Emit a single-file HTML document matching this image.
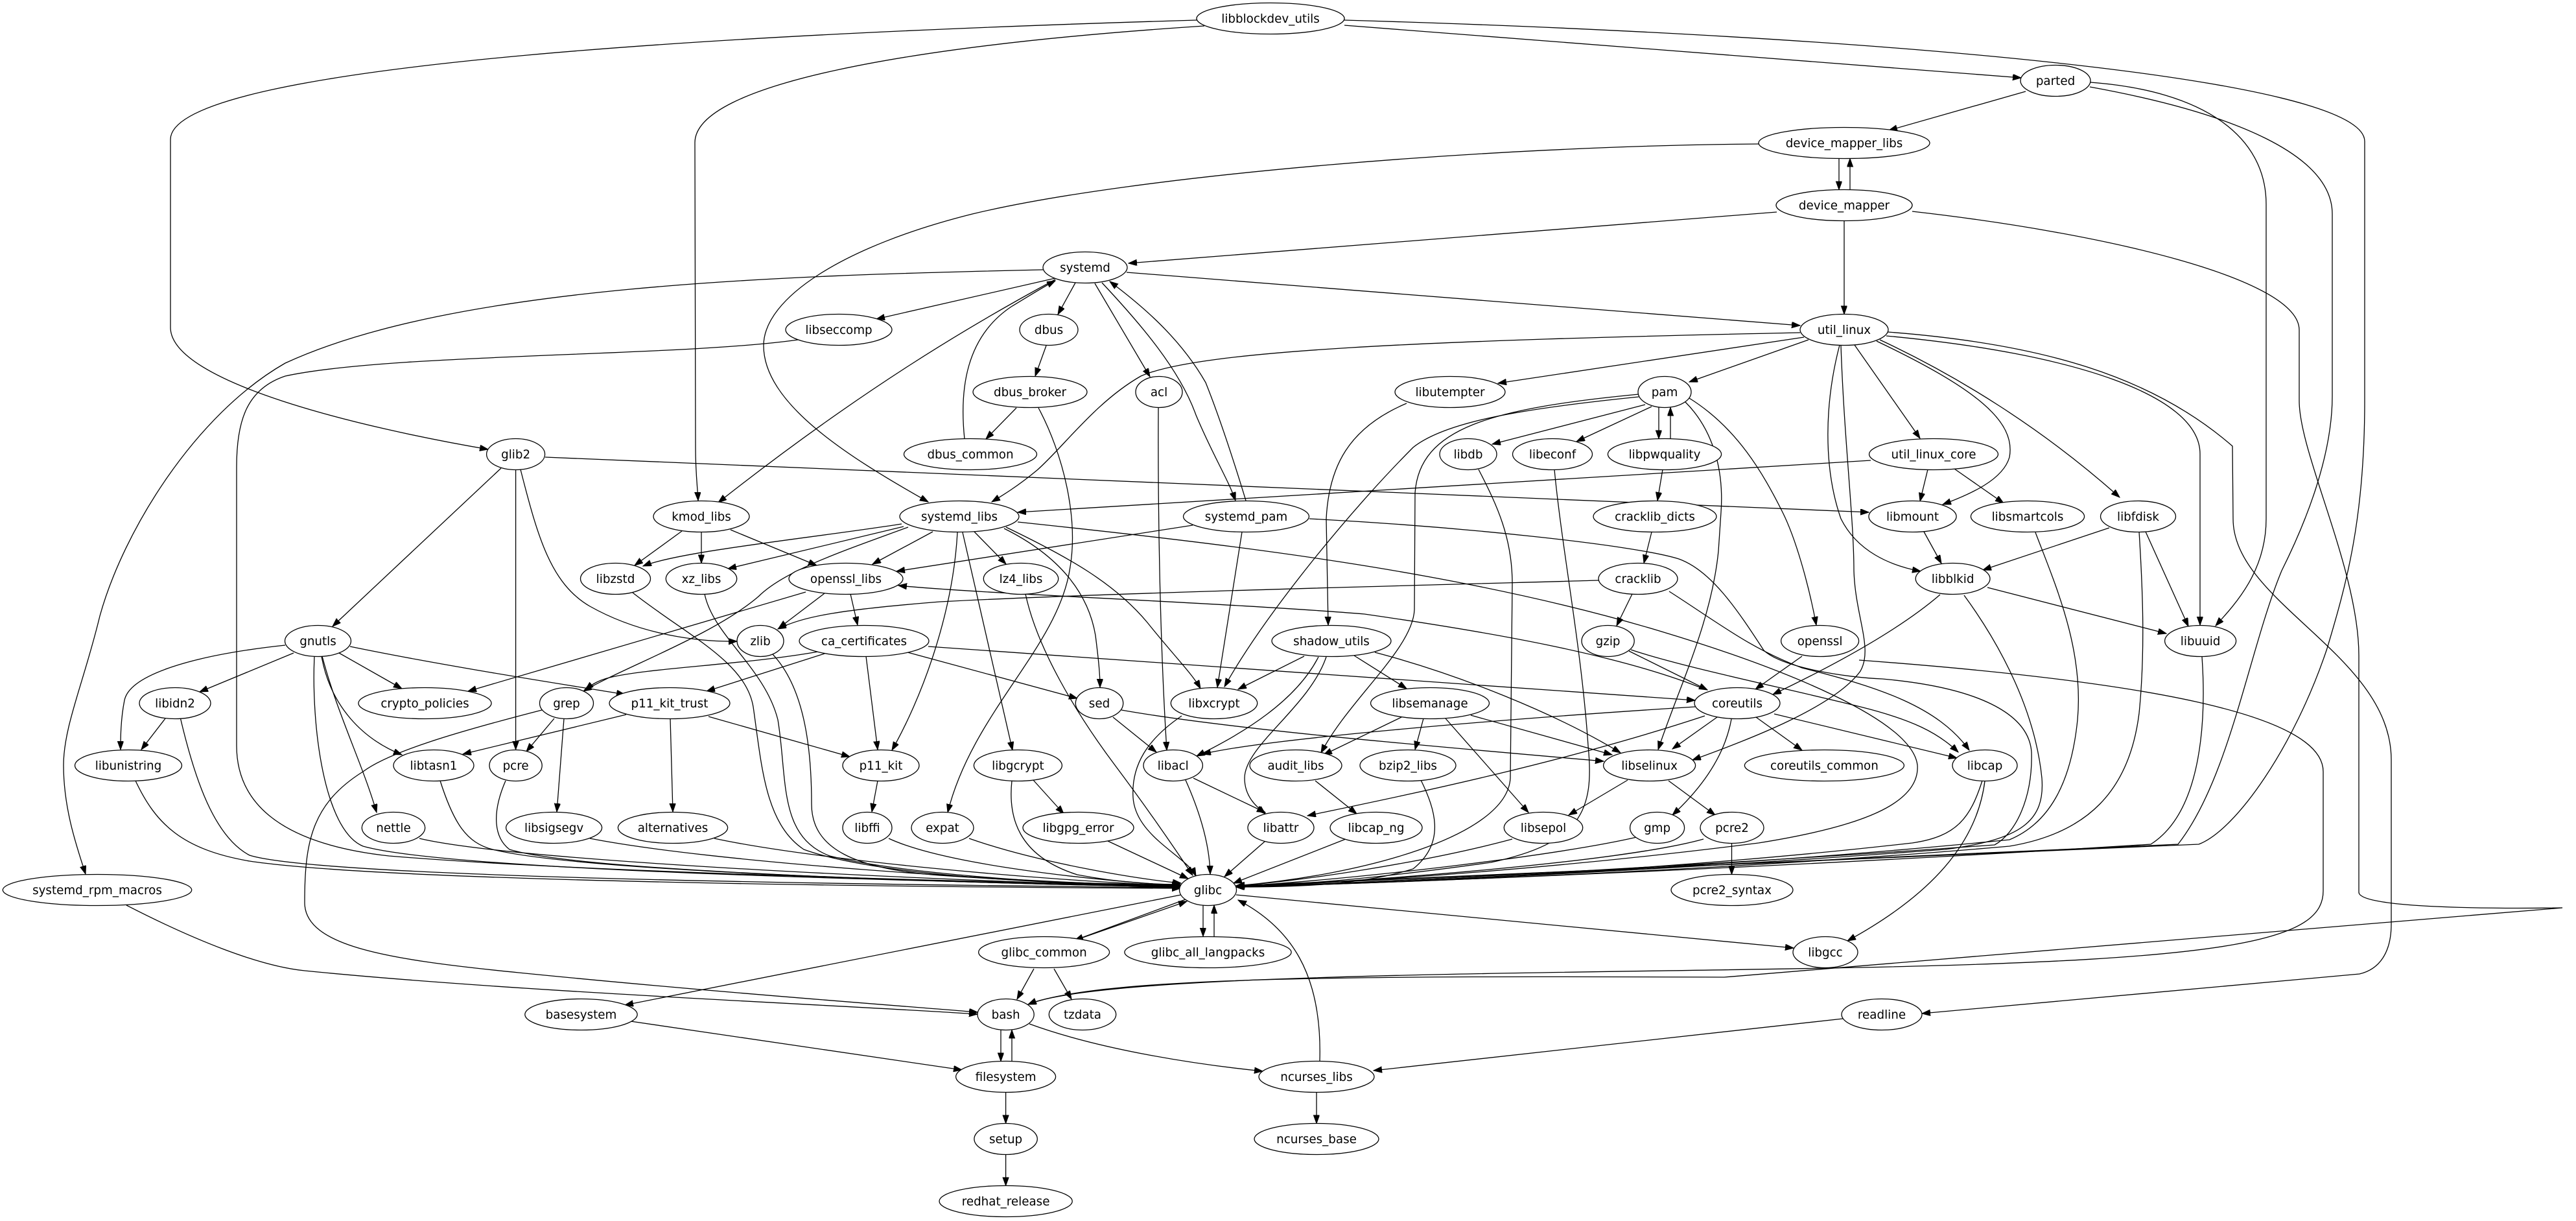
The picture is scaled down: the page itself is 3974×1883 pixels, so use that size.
<!DOCTYPE html>
<html>
<head>
<meta charset="utf-8">
<style>
html,body{margin:0;padding:0;background:#fff;}
svg{display:block;}
.e path{fill:none;stroke:#000;stroke-width:1.3;}
.n ellipse{fill:#fff;stroke:#000;stroke-width:1.3;}
.n text{font-family:"DejaVu Sans","Liberation Sans",sans-serif;font-size:18.3px;fill:#000;text-anchor:middle;}
</style>
</head>
<body>
<svg width="3974" height="1883" viewBox="0 0 3974 1883" xmlns="http://www.w3.org/2000/svg">
<defs>
<marker id="a" markerWidth="14" markerHeight="10" refX="13" refY="4.7" orient="auto" markerUnits="userSpaceOnUse">
<path d="M0,0 L13,4.7 L0,9.4 z" fill="#000" stroke="#000" stroke-width="1"/>
</marker>
</defs>
<rect width="3974" height="1883" fill="#fff"/>
<g class="e" marker-end="url(#a)">
<!-- libblockdev_utils -->
<path d="M1847,31 C1200,50 263,95 263,215 L263,505 C263,590 560,660 753,693" marker-end="url(#a)"/>
<path d="M1858,40 C1400,70 1072,130 1072,220 L1073,690 C1073,730 1076,750 1077,772" marker-end="url(#a)"/>
<path d="M2074,39 L3118,120" marker-end="url(#a)"/>
<path d="M2073,31 C2900,55 3648,120 3648,218 L3648,618 C3648,800 3620,900 3590,1000 C3540,1150 3450,1280 3392,1302 L1907,1366" marker-end="url(#a)"/>
<!-- parted -->
<path d="M3125,141 L2914,201" marker-end="url(#a)"/>
<path d="M3225,127 C3400,140 3496,210 3496,315 L3496,800 C3496,880 3450,930 3418,965" marker-end="url(#a)"/>
<path d="M3224,134 C3450,175 3598,240 3598,330 L3598,611 C3598,700 3560,800 3520,880 C3470,1000 3440,1200 3360,1302 L1907,1367" marker-end="url(#a)"/>
<!-- device mapper -->
<path d="M2837,244.5 L2837,292.5" marker-end="url(#a)"/>
<path d="M2854,292.5 L2854,244.5" marker-end="url(#a)"/>
<path d="M2713,222 C2300,225 1750,270 1500,330 C1300,380 1178,460 1178,533 C1178,620 1300,700 1432,774" marker-end="url(#a)"/>
<path d="M2741,327 L1741,406" marker-end="url(#a)"/>
<path d="M2845,340.5 L2845,484.5" marker-end="url(#a)"/>
<path d="M2950,326 C3250,360 3547,430 3547,509 L3547,618 C3547,700 3639,880 3639,1011 L3639,1376 C3639,1398 3800,1402 3953,1400 L2660,1507 C2100,1505 1700,1505 1586,1549" marker-end="url(#a)"/>
<!-- systemd -->
<path d="M1738,420 L2777,502" marker-end="url(#a)"/>
<path d="M1628,429 L1352,492" marker-end="url(#a)"/>
<path d="M1659,436 L1632,485" marker-end="url(#a)"/>
<path d="M1689,437 L1774,581" marker-end="url(#a)"/>
<path d="M1700,436 C1760,500 1820,570 1845,640 C1870,700 1895,740 1906,772" marker-end="url(#a)"/>
<path d="M1922,772 C1900,700 1880,640 1860,590 C1820,520 1760,470 1712,434" marker-end="url(#a)"/>
<path d="M1609,416 C1200,425 700,440 440,560 C300,640 190,820 154,950 C130,1050 98,1120 98,1180 C98,1250 120,1310 132,1348" marker-end="url(#a)"/>
<path d="M1628,431 C1500,500 1330,600 1108,775" marker-end="url(#a)"/>
<path d="M1488,677 C1480,600 1490,520 1560,473 C1590,455 1610,442 1628,433" marker-end="url(#a)"/>
<path d="M1614,533 L1597,580" marker-end="url(#a)"/>
<path d="M1568,629 L1521,677" marker-end="url(#a)"/>
<path d="M1602,629 C1640,700 1665,800 1650,880 C1630,1000 1500,1100 1462,1253" marker-end="url(#a)"/>
<path d="M1787,628.5 C1786,800 1790,1000 1800,1157" marker-end="url(#a)"/>
<path d="M1231,524 C1050,550 600,545 440,580 C380,600 365,650 365,720 L365,1150 C365,1230 420,1300 600,1320 C900,1345 1500,1360 1821,1366" marker-end="url(#a)"/>
<!-- glib2 -->
<path d="M773,722 L513,966" marker-end="url(#a)"/>
<path d="M795.6,724.5 L795.6,1156" marker-end="url(#a)"/>
<path d="M803,724 C830,830 850,900 910,935 C990,980 1080,990 1137,989" marker-end="url(#a)"/>
<path d="M841,705 L2883,790" marker-end="url(#a)"/>
<!-- kmod -->
<path d="M1052,819 L979,872" marker-end="url(#a)"/>
<path d="M1082,820.5 L1082,868.5" marker-end="url(#a)"/>
<path d="M1127,817 L1260,872" marker-end="url(#a)"/>
<path d="M976,914 C1060,980 1150,1020 1162,1090 C1175,1180 1180,1270 1240,1310 C1350,1350 1600,1362 1821,1368" marker-end="url(#a)"/>
<path d="M1087,916 C1100,980 1180,1030 1200,1110 C1215,1200 1200,1290 1280,1320 C1400,1350 1650,1363 1821,1370" marker-end="url(#a)"/>
<path d="M1192,1009 C1240,1060 1252,1150 1252,1240 C1252,1310 1320,1340 1450,1350 C1600,1360 1700,1364 1821,1364" marker-end="url(#a)"/>
<!-- openssl_libs -->
<path d="M1243,913 L722,1066" marker-end="url(#a)"/>
<path d="M1272,915 L1201,969" marker-end="url(#a)"/>
<path d="M1312,916 L1323,964" marker-end="url(#a)"/>
<!-- systemd_libs -->
<path d="M1439,820 L1346,870" marker-end="url(#a)"/>
<path d="M1391,808 C1250,830 1050,850 992,873" marker-end="url(#a)"/>
<path d="M1394,812 L1123,877" marker-end="url(#a)"/>
<path d="M1401,813 C1300,850 1210,880 1170,920 C1100,980 960,1030 900,1066" marker-end="url(#a)"/>
<path d="M1503,820 L1552,870" marker-end="url(#a)"/>
<path d="M1477,821 C1470,950 1420,1080 1376,1157" marker-end="url(#a)"/>
<path d="M1485,821 L1562,1157" marker-end="url(#a)"/>
<path d="M1549,815 C1640,860 1680,920 1690,980 C1695,1020 1697,1040 1697,1060" marker-end="url(#a)"/>
<path d="M1552,813 C1650,860 1720,900 1770,960 C1810,1010 1840,1040 1852,1062" marker-end="url(#a)"/>
<path d="M1570,805 C1900,840 2250,880 2560,973 C2750,1030 2950,1110 2958,1180 C2962,1240 2870,1275 2713,1300 C2400,1340 2100,1360 1907,1368" marker-end="url(#a)"/>
<path d="M1582,916 C1600,1000 1660,1100 1720,1180 C1780,1260 1820,1320 1840,1350" marker-end="url(#a)"/>
<!-- util_linux -->
<path d="M2886,710 L1570,790" marker-end="url(#a)"/>
<path d="M2777,513 C2200,525 1850,540 1760,580 C1690,620 1640,690 1600,725 C1570,750 1545,765 1530,774" marker-end="url(#a)"/>
<path d="M2783,520 L2311,591" marker-end="url(#a)"/>
<path d="M2790,524 L2606,589" marker-end="url(#a)"/>
<path d="M2861,532 L2962,676" marker-end="url(#a)"/>
<path d="M2895,526 C3050,600 3110,650 3100,705 C3090,740 3040,762 2997,778" marker-end="url(#a)"/>
<path d="M2900,524 C3020,580 3150,660 3270,767" marker-end="url(#a)"/>
<path d="M2838,532 C2815,620 2812,720 2840,800 C2865,850 2915,872 2963,881" marker-end="url(#a)"/>
<path d="M2910,518 C3200,545 3394,610 3394,700 L3394,964" marker-end="url(#a)"/>
<path d="M2912,512 C3150,530 3320,580 3444,688 L3445,800 C3445,930 3689,1010 3689,1172 L3689,1425 C3689,1470 3670,1495 3640,1502 L2965,1563" marker-end="url(#a)"/>
<path d="M2840,533 C2845,680 2860,800 2860,880 C2862,950 2890,1000 2870,1035 C2830,1090 2700,1140 2611,1172" marker-end="url(#a)"/>
<!-- pam -->
<path d="M2600,620 C2640,660 2660,720 2655,790 L2651,850 C2640,960 2590,1060 2558,1156" marker-end="url(#a)"/>
<path d="M2606,614 C2680,660 2720,730 2750,790 C2770,830 2790,900 2802,964" marker-end="url(#a)"/>
<path d="M2538,624 L2302,685" marker-end="url(#a)"/>
<path d="M2548,627 L2432,681" marker-end="url(#a)"/>
<path d="M2559,628.5 L2559,676.5" marker-end="url(#a)"/>
<path d="M2577,676.5 L2577,628.5" marker-end="url(#a)"/>
<path d="M2528,612 C2350,630 2230,650 2180,690 C2080,790 1950,950 1889,1059" marker-end="url(#a)"/>
<path d="M2528,608 C2300,630 2190,660 2183,760 L2182,940 C2180,1000 2080,1080 2038,1161" marker-end="url(#a)"/>
<path d="M2281,724 C2310,780 2333,830 2333,900 L2330,1200 C2325,1290 2100,1350 1907,1366" marker-end="url(#a)"/>
<path d="M2398,724.5 C2410,850 2440,1000 2450,1150 C2460,1250 2440,1300 2300,1330 C2100,1358 2000,1364 1907,1367" marker-end="url(#a)"/>
<path d="M2565,724 L2557,772" marker-end="url(#a)"/>
<path d="M2548,820.5 L2536,868.5" marker-end="url(#a)"/>
<!-- cracklib / gzip -->
<path d="M2466,895 C2100,905 1700,915 1450,928 C1300,940 1240,950 1200,970" marker-end="url(#a)"/>
<path d="M2518,916 L2494,965" marker-end="url(#a)"/>
<path d="M2575,912 C2650,960 2700,1000 2780,1030 C2900,1060 2990,1090 3038,1157" marker-end="url(#a)"/>
<path d="M2516,1002 C2600,1030 2750,1060 2870,1090 C2950,1110 2990,1130 3021,1160" marker-end="url(#a)"/>
<path d="M2513,1004 L2634,1064" marker-end="url(#a)"/>
<!-- systemd_pam -->
<path d="M2020,800 C2250,812 2520,840 2590,862 C2640,880 2680,940 2721,1003 C2750,1030 2850,1045 2904,1047 C3050,1060 3130,1100 3134,1160 C3136,1230 3110,1285 3077,1303 C2700,1330 2200,1358 1907,1368" marker-end="url(#a)"/>
<path d="M1916,820.5 L1878,1060" marker-end="url(#a)"/>
<path d="M1840,810 L1383,881" marker-end="url(#a)"/>
<!-- shadow_utils etc -->
<path d="M2170,622 C2080,660 2050,720 2046,800 L2049,964" marker-end="url(#a)"/>
<path d="M2012,1012 L1910,1063" marker-end="url(#a)"/>
<path d="M2089,1011 L2170,1062" marker-end="url(#a)"/>
<path d="M2034,1013 C2000,1080 1920,1130 1846,1166" marker-end="url(#a)"/>
<path d="M2046,1013 C2020,1090 1920,1150 1920,1200 C1920,1230 1940,1245 1952,1255" marker-end="url(#a)"/>
<path d="M2121,1006 C2250,1040 2400,1100 2500,1161" marker-end="url(#a)"/>
<path d="M1717,1106 L1784,1160" marker-end="url(#a)"/>
<path d="M1730,1095 C1900,1125 2200,1150 2474,1174" marker-end="url(#a)"/>
<!-- ca_certificates -->
<path d="M1432,997 L2615,1080" marker-end="url(#a)"/>
<path d="M1400,1006 L1662,1077" marker-end="url(#a)"/>
<path d="M1262,1005 C1150,1025 1000,1030 940,1045 C920,1050 910,1058 903,1064" marker-end="url(#a)"/>
<path d="M1272,1008 L1090,1066" marker-end="url(#a)"/>
<path d="M1336,1012 L1354,1156" marker-end="url(#a)"/>
<!-- coreutils -->
<path d="M2630,1063 C2500,1010 2300,975 2105,947 C1900,930 1500,915 1386,903" marker-end="url(#a)"/>
<path d="M2649,1106 L2580,1155" marker-end="url(#a)"/>
<path d="M2709,1106 L2780,1157" marker-end="url(#a)"/>
<path d="M2737,1101 L3019,1169" marker-end="url(#a)"/>
<path d="M2671,1109 C2660,1170 2620,1220 2580,1257" marker-end="url(#a)"/>
<path d="M2615,1090 C2300,1110 1950,1140 1855,1163" marker-end="url(#a)"/>
<path d="M2630,1104 C2400,1180 2150,1230 2017,1258" marker-end="url(#a)"/>
<path d="M2780,1012 L2708,1063" marker-end="url(#a)"/>
<path d="M2993,917 C2920,980 2800,1040 2735,1071" marker-end="url(#a)"/>
<!-- libblkid, libfdisk, etc -->
<path d="M3066,906 L3342,977" marker-end="url(#a)"/>
<path d="M3030,918 C3090,1000 3140,1100 3150,1200 C3155,1265 3120,1295 3000,1310 C2600,1340 2200,1360 1907,1368" marker-end="url(#a)"/>
<path d="M2968,820 L2995,869" marker-end="url(#a)"/>
<path d="M2974,724 L2962,773" marker-end="url(#a)"/>
<path d="M3015,723 L3091,776" marker-end="url(#a)"/>
<path d="M3254,814 L3059,879" marker-end="url(#a)"/>
<path d="M3310,820 L3376,966" marker-end="url(#a)"/>
<path d="M3300,820 C3305,900 3310,1000 3300,1100 C3285,1220 3220,1285 3100,1305 C2700,1340 2200,1360 1907,1368" marker-end="url(#a)"/>
<path d="M3140,821 C3170,900 3215,1000 3205,1110 C3195,1210 3160,1270 3100,1295 C2700,1335 2200,1360 1907,1368" marker-end="url(#a)"/>
<path d="M3397,1013 C3403,1100 3400,1250 3318,1302 C2800,1335 2200,1360 1907,1368" marker-end="url(#a)"/>
<path d="M2868,1018 C3300,1050 3584,1100 3584,1190 L3584,1374 C3584,1450 3450,1480 2870,1492 C2400,1502 1700,1500 1586,1549" marker-end="url(#a)"/>
<path d="M3058,1204 C3040,1260 3020,1290 2950,1300 C2600,1340 2200,1360 1907,1368" marker-end="url(#a)"/>
<path d="M3062,1204.5 C3050,1300 2980,1380 2850,1451" marker-end="url(#a)"/>
<!-- libselinux / libsemanage -->
<path d="M2511,1203 L2420,1257" marker-end="url(#a)"/>
<path d="M2574,1204 L2646,1257" marker-end="url(#a)"/>
<path d="M2162,1106 L2042,1164" marker-end="url(#a)"/>
<path d="M2196,1108 L2183,1156" marker-end="url(#a)"/>
<path d="M2230,1108 L2358,1253" marker-end="url(#a)"/>
<path d="M2269,1103 L2487,1164" marker-end="url(#a)"/>
<path d="M2029,1204 L2093,1255" marker-end="url(#a)"/>
<path d="M2192,1203 C2215,1250 2230,1300 2180,1340 C2100,1365 2000,1368 1907,1368" marker-end="url(#a)"/>
<!-- row 12/13 to glibc -->
<path d="M1594,1203 L1641,1255" marker-end="url(#a)"/>
<path d="M1561,1204 C1555,1260 1570,1320 1662,1349 C1730,1362 1790,1364 1821,1364" marker-end="url(#a)"/>
<path d="M1709,1297 L1833,1355" marker-end="url(#a)"/>
<path d="M1495,1293 C1600,1330 1750,1355 1822,1362" marker-end="url(#a)"/>
<path d="M1371,1293 C1450,1330 1650,1355 1821,1366" marker-end="url(#a)"/>
<path d="M1354,1204 L1345,1252" marker-end="url(#a)"/>
<path d="M1841,1200 L1952,1253" marker-end="url(#a)"/>
<path d="M1829,1203 C1850,1250 1866,1300 1867,1348" marker-end="url(#a)"/>
<path d="M1823,1104 C1770,1140 1745,1180 1748,1230 C1752,1290 1830,1320 1845,1351" marker-end="url(#a)"/>
<path d="M1952,1297 L1889,1352" marker-end="url(#a)"/>
<path d="M2076,1294 L1903,1362" marker-end="url(#a)"/>
<path d="M2333,1294 C2200,1330 2000,1360 1907,1366" marker-end="url(#a)"/>
<path d="M2525,1291 C2400,1320 2100,1355 1907,1367" marker-end="url(#a)"/>
<path d="M2628,1294 C2500,1330 2100,1360 1907,1368" marker-end="url(#a)"/>
<path d="M2671.5,1300.5 L2671.5,1348.5" marker-end="url(#a)"/>
<!-- gnutls & left -->
<path d="M453,1007 L308,1067" marker-end="url(#a)"/>
<path d="M523,1007 L620,1062" marker-end="url(#a)"/>
<path d="M540,997 C700,1030 900,1060 964,1071" marker-end="url(#a)"/>
<path d="M440,995 C300,1010 200,1040 192,1080 C186,1110 186,1140 186,1156" marker-end="url(#a)"/>
<path d="M496,1012 C510,1090 560,1140 620,1164" marker-end="url(#a)"/>
<path d="M497,1012 C520,1100 560,1180 581,1253" marker-end="url(#a)"/>
<path d="M485,1012 C480,1120 500,1280 560,1305 C700,1345 1500,1360 1821,1368" marker-end="url(#a)"/>
<path d="M255,1108 L218,1156" marker-end="url(#a)"/>
<path d="M278,1106 C300,1200 330,1290 385,1319 C500,1355 1400,1365 1821,1369" marker-end="url(#a)"/>
<path d="M209,1204 C240,1270 280,1310 385,1328 C600,1360 1400,1368 1821,1370" marker-end="url(#a)"/>
<path d="M966,1102 L714,1163" marker-end="url(#a)"/>
<path d="M1034,1108.5 L1038,1252" marker-end="url(#a)"/>
<path d="M1093,1105 L1311,1167" marker-end="url(#a)"/>
<path d="M855,1108 L812,1159" marker-end="url(#a)"/>
<path d="M870,1108.5 L859,1252" marker-end="url(#a)"/>
<path d="M836,1095 C700,1130 600,1160 560,1190 C480,1240 470,1300 470,1392 C470,1460 600,1480 800,1500 C1100,1530 1400,1552 1508,1561" marker-end="url(#a)"/>
<path d="M679,1204 C700,1270 720,1300 760,1310 C900,1345 1500,1362 1821,1368" marker-end="url(#a)"/>
<path d="M780,1204 C760,1250 760,1290 786,1310 C900,1345 1500,1362 1821,1368" marker-end="url(#a)"/>
<path d="M647,1293 C800,1330 1500,1360 1821,1368" marker-end="url(#a)"/>
<path d="M910,1293 C1100,1330 1550,1360 1821,1367" marker-end="url(#a)"/>
<path d="M1102,1293 C1250,1325 1600,1358 1821,1366" marker-end="url(#a)"/>
<path d="M195,1396 C300,1450 400,1490 470,1497 C800,1530 1300,1550 1508,1564" marker-end="url(#a)"/>
<!-- glibc and below -->
<path d="M1822,1380 L964,1550" marker-end="url(#a)"/>
<path d="M1829,1387 L1658,1450" marker-end="url(#a)"/>
<path d="M1670,1446 L1831,1390" marker-end="url(#a)"/>
<path d="M1856,1396 L1856,1444" marker-end="url(#a)"/>
<path d="M1873,1444 L1873,1396" marker-end="url(#a)"/>
<path d="M1907,1380 L2767,1462" marker-end="url(#a)"/>
<path d="M973,1575 L1484,1650" marker-end="url(#a)"/>
<path d="M1595,1494 L1569,1541" marker-end="url(#a)"/>
<path d="M1626,1494 L1653,1541" marker-end="url(#a)"/>
<path d="M1544,1588.5 L1544,1636.5" marker-end="url(#a)"/>
<path d="M1561,1636.5 L1561,1588.5" marker-end="url(#a)"/>
<path d="M1588,1579 C1700,1620 1850,1642 1948,1652" marker-end="url(#a)"/>
<path d="M2036,1636 C2040,1500 1990,1430 1910,1388" marker-end="url(#a)"/>
<path d="M2031,1684.5 L2031,1732.5" marker-end="url(#a)"/>
<path d="M1551.6,1684.5 L1551.6,1732.5" marker-end="url(#a)"/>
<path d="M1551.6,1780.5 L1551.6,1828.5" marker-end="url(#a)"/>
<path d="M2843,1571 L2119,1651" marker-end="url(#a)"/>
</g>
<g class="n">
<ellipse cx="1960" cy="28.5" rx="114" ry="24"/><text x="1960" y="34.8">libblockdev_utils</text>
<ellipse cx="3171" cy="124.5" rx="54" ry="24"/><text x="3171" y="130.8">parted</text>
<ellipse cx="2845" cy="220.5" rx="132" ry="24"/><text x="2845" y="226.8">device_mapper_libs</text>
<ellipse cx="2845" cy="316.5" rx="105" ry="24"/><text x="2845" y="322.8">device_mapper</text>
<ellipse cx="1674" cy="412.5" rx="65" ry="24"/><text x="1674" y="418.8">systemd</text>
<ellipse cx="1294" cy="508.5" rx="82" ry="24"/><text x="1294" y="514.8">libseccomp</text>
<ellipse cx="1618" cy="508.5" rx="45" ry="24"/><text x="1618" y="514.8">dbus</text>
<ellipse cx="2845" cy="508.5" rx="68" ry="24"/><text x="2845" y="514.8">util_linux</text>
<ellipse cx="1589" cy="604.5" rx="88" ry="24"/><text x="1589" y="610.8">dbus_broker</text>
<ellipse cx="1788" cy="604.5" rx="36" ry="24"/><text x="1788" y="610.8">acl</text>
<ellipse cx="2237" cy="604.5" rx="85" ry="24"/><text x="2237" y="610.8">libutempter</text>
<ellipse cx="2568" cy="604.5" rx="41" ry="24"/><text x="2568" y="610.8">pam</text>
<ellipse cx="795.6" cy="700.5" rx="45" ry="24"/><text x="795.6" y="706.8">glib2</text>
<ellipse cx="1497" cy="700.5" rx="102.5" ry="24"/><text x="1497" y="706.8">dbus_common</text>
<ellipse cx="2265" cy="700.5" rx="44" ry="24"/><text x="2265" y="706.8">libdb</text>
<ellipse cx="2395" cy="700.5" rx="61.5" ry="24"/><text x="2395" y="706.8">libeconf</text>
<ellipse cx="2568" cy="700.5" rx="87.6" ry="24"/><text x="2568" y="706.8">libpwquality</text>
<ellipse cx="2983" cy="700.5" rx="99.5" ry="24"/><text x="2983" y="706.8">util_linux_core</text>
<ellipse cx="1082" cy="796.5" rx="74" ry="24"/><text x="1082" y="802.8">kmod_libs</text>
<ellipse cx="1480" cy="796.5" rx="92" ry="24"/><text x="1480" y="802.8">systemd_libs</text>
<ellipse cx="1922.5" cy="796.5" rx="97" ry="24"/><text x="1922.5" y="802.8">systemd_pam</text>
<ellipse cx="2553" cy="796.5" rx="95" ry="24"/><text x="2553" y="802.8">cracklib_dicts</text>
<ellipse cx="2950.5" cy="796.5" rx="67.6" ry="24"/><text x="2950.5" y="802.8">libmount</text>
<ellipse cx="3128" cy="796.5" rx="87.6" ry="24"/><text x="3128" y="802.8">libsmartcols</text>
<ellipse cx="3298.5" cy="796.5" rx="58" ry="24"/><text x="3298.5" y="802.8">libfdisk</text>
<ellipse cx="949.5" cy="892.5" rx="54" ry="24"/><text x="949.5" y="898.8">libzstd</text>
<ellipse cx="1082" cy="892.5" rx="54.7" ry="24"/><text x="1082" y="898.8">xz_libs</text>
<ellipse cx="1305" cy="892.5" rx="88" ry="24"/><text x="1305" y="898.8">openssl_libs</text>
<ellipse cx="1575" cy="892.5" rx="57.7" ry="24"/><text x="1575" y="898.8">lz4_libs</text>
<ellipse cx="2527" cy="892.5" rx="61" ry="24"/><text x="2527" y="898.8">cracklib</text>
<ellipse cx="3012.6" cy="892.5" rx="57.4" ry="24"/><text x="3012.6" y="898.8">libblkid</text>
<ellipse cx="490.5" cy="988.5" rx="51" ry="24"/><text x="490.5" y="994.8">gnutls</text>
<ellipse cx="1173" cy="988.5" rx="36" ry="24"/><text x="1173" y="994.8">zlib</text>
<ellipse cx="1333" cy="988.5" rx="100" ry="24"/><text x="1333" y="994.8">ca_certificates</text>
<ellipse cx="2054" cy="988.5" rx="92" ry="24"/><text x="2054" y="994.8">shadow_utils</text>
<ellipse cx="2480.6" cy="988.5" rx="40.6" ry="24"/><text x="2480.6" y="994.8">gzip</text>
<ellipse cx="2807.6" cy="988.5" rx="60" ry="24"/><text x="2807.6" y="994.8">openssl</text>
<ellipse cx="3394.6" cy="988.5" rx="55" ry="24"/><text x="3394.6" y="994.8">libuuid</text>
<ellipse cx="270" cy="1084.5" rx="55" ry="24"/><text x="270" y="1090.8">libidn2</text>
<ellipse cx="655.5" cy="1084.5" rx="102.6" ry="24"/><text x="655.5" y="1090.8">crypto_policies</text>
<ellipse cx="874" cy="1084.5" rx="41.5" ry="24"/><text x="874" y="1090.8">grep</text>
<ellipse cx="1033" cy="1084.5" rx="93" ry="24"/><text x="1033" y="1090.8">p11_kit_trust</text>
<ellipse cx="1696" cy="1084.5" rx="36.7" ry="24"/><text x="1696" y="1090.8">sed</text>
<ellipse cx="1873" cy="1084.5" rx="66.7" ry="24"/><text x="1873" y="1090.8">libxcrypt</text>
<ellipse cx="2206" cy="1084.5" rx="91.5" ry="24"/><text x="2206" y="1090.8">libsemanage</text>
<ellipse cx="2680" cy="1084.5" rx="66" ry="24"/><text x="2680" y="1090.8">coreutils</text>
<ellipse cx="198" cy="1180.5" rx="82.5" ry="24"/><text x="198" y="1186.8">libunistring</text>
<ellipse cx="669" cy="1180.5" rx="62" ry="24"/><text x="669" y="1186.8">libtasn1</text>
<ellipse cx="795.6" cy="1180.5" rx="40.6" ry="24"/><text x="795.6" y="1186.8">pcre</text>
<ellipse cx="1359" cy="1180.5" rx="59" ry="24"/><text x="1359" y="1186.8">p11_kit</text>
<ellipse cx="1570.4" cy="1180.5" rx="68" ry="24"/><text x="1570.4" y="1186.8">libgcrypt</text>
<ellipse cx="1809.7" cy="1180.5" rx="45.7" ry="24"/><text x="1809.7" y="1186.8">libacl</text>
<ellipse cx="1999" cy="1180.5" rx="71" ry="24"/><text x="1999" y="1186.8">audit_libs</text>
<ellipse cx="2172" cy="1180.5" rx="74" ry="24"/><text x="2172" y="1186.8">bzip2_libs</text>
<ellipse cx="2544.6" cy="1180.5" rx="71" ry="24"/><text x="2544.6" y="1186.8">libselinux</text>
<ellipse cx="2814.4" cy="1180.5" rx="123" ry="24"/><text x="2814.4" y="1186.8">coreutils_common</text>
<ellipse cx="3062" cy="1180.5" rx="50" ry="24"/><text x="3062" y="1186.8">libcap</text>
<ellipse cx="607" cy="1276.5" rx="48.7" ry="24"/><text x="607" y="1282.8">nettle</text>
<ellipse cx="854.6" cy="1276.5" rx="74" ry="24"/><text x="854.6" y="1282.8">libsigsegv</text>
<ellipse cx="1038" cy="1276.5" rx="84.6" ry="24"/><text x="1038" y="1282.8">alternatives</text>
<ellipse cx="1338" cy="1276.5" rx="38" ry="24"/><text x="1338" y="1282.8">libffi</text>
<ellipse cx="1454" cy="1276.5" rx="48" ry="24"/><text x="1454" y="1282.8">expat</text>
<ellipse cx="1663.5" cy="1276.5" rx="85.5" ry="24"/><text x="1663.5" y="1282.8">libgpg_error</text>
<ellipse cx="1976" cy="1276.5" rx="51" ry="24"/><text x="1976" y="1282.8">libattr</text>
<ellipse cx="2123" cy="1276.5" rx="71" ry="24"/><text x="2123" y="1282.8">libcap_ng</text>
<ellipse cx="2381" cy="1276.5" rx="60.7" ry="24"/><text x="2381" y="1282.8">libsepol</text>
<ellipse cx="2556.6" cy="1276.5" rx="42" ry="24"/><text x="2556.6" y="1282.8">gmp</text>
<ellipse cx="2672" cy="1276.5" rx="49" ry="24"/><text x="2672" y="1282.8">pcre2</text>
<ellipse cx="150" cy="1372.5" rx="145.7" ry="24"/><text x="150" y="1378.8">systemd_rpm_macros</text>
<ellipse cx="1863.5" cy="1372.5" rx="44" ry="24"/><text x="1863.5" y="1378.8">glibc</text>
<ellipse cx="2672" cy="1372.5" rx="94" ry="24"/><text x="2672" y="1378.8">pcre2_syntax</text>
<ellipse cx="1610.6" cy="1468.5" rx="101" ry="24"/><text x="1610.6" y="1474.8">glibc_common</text>
<ellipse cx="1863.5" cy="1468.5" rx="128.6" ry="24"/><text x="1863.5" y="1474.8">glibc_all_langpacks</text>
<ellipse cx="2816" cy="1468.5" rx="50" ry="24"/><text x="2816" y="1474.8">libgcc</text>
<ellipse cx="896.5" cy="1564.5" rx="86.7" ry="24"/><text x="896.5" y="1570.8">basesystem</text>
<ellipse cx="1551.6" cy="1564.5" rx="43.6" ry="24"/><text x="1551.6" y="1570.8">bash</text>
<ellipse cx="1670" cy="1564.5" rx="51.7" ry="24"/><text x="1670" y="1570.8">tzdata</text>
<ellipse cx="2903" cy="1564.5" rx="62" ry="24"/><text x="2903" y="1570.8">readline</text>
<ellipse cx="1551.6" cy="1660.5" rx="77" ry="24"/><text x="1551.6" y="1666.8">filesystem</text>
<ellipse cx="2031" cy="1660.5" rx="89" ry="24"/><text x="2031" y="1666.8">ncurses_libs</text>
<ellipse cx="1551.6" cy="1756.5" rx="48.7" ry="24"/><text x="1551.6" y="1762.8">setup</text>
<ellipse cx="2031" cy="1756.5" rx="96" ry="24"/><text x="2031" y="1762.8">ncurses_base</text>
<ellipse cx="1551.6" cy="1852.5" rx="102.6" ry="24"/><text x="1551.6" y="1858.8">redhat_release</text>
</g>
</svg>
</body>
</html>
